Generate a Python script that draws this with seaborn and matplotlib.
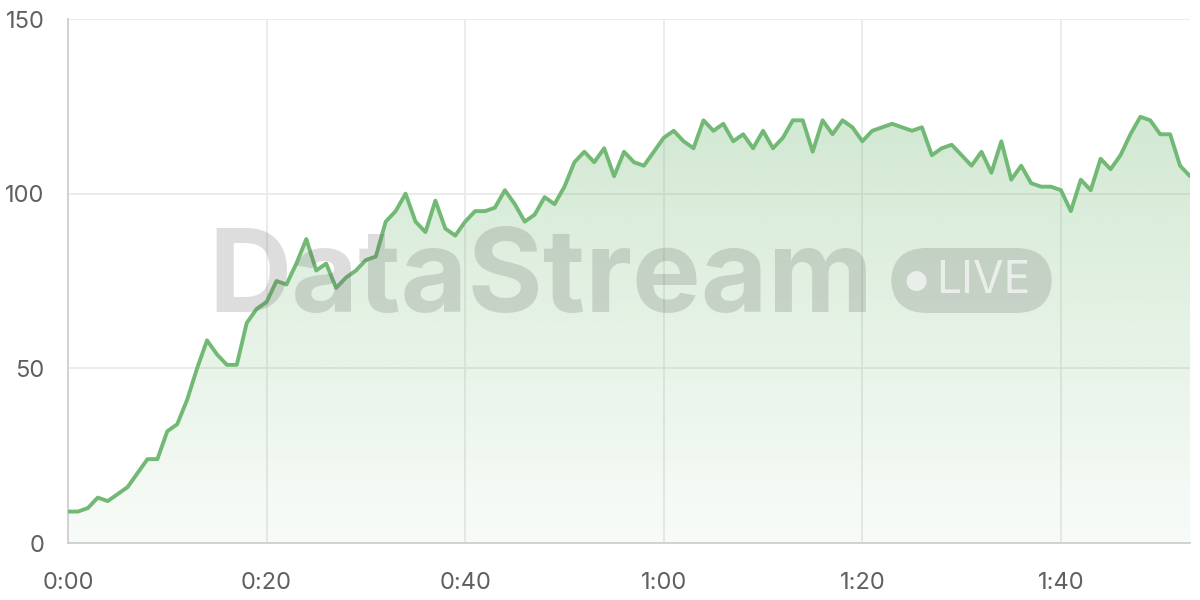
import numpy as np
import pandas as pd
import matplotlib
matplotlib.use("Agg")
import matplotlib.pyplot as plt
import seaborn as sns
from matplotlib.patches import FancyBboxPatch

# 秒ごとの値
seconds = list(range(114))
values = [
    9, 9, 10, 13, 12, 14, 16, 20, 24, 24,
    32, 34, 41, 50, 58, 54, 51, 51, 63, 67,
    69, 75, 74, 80, 87, 78, 80, 73, 76, 78,
    81, 82, 92, 95, 100, 92, 89, 98, 90, 88,
    92, 95, 95, 96, 101, 97, 92, 94, 99, 97,
    102, 109, 112, 109, 113, 105, 112, 109, 108, 112,
    116, 118, 115, 113, 121, 118, 120, 115, 117, 113,
    118, 113, 116, 121, 121, 112, 121, 117, 121, 119,
    115, 118, 119, 120, 119, 118, 119, 111, 113, 114,
    111, 108, 112, 106, 115, 104, 108, 103, 102, 102,
    101, 95, 104, 101, 110, 107, 111, 117, 122, 121,
    117, 117, 108, 105,
]
x_ticks = [0, 20, 40, 60, 80, 100]
x_tick_labels = ["0:00", "0:20", "0:40", "1:00", "1:20", "1:40"]
y_ticks = [0, 50, 100, 150]

line_color = "#72b975"
grid_color = "#e8e8e8"
axis_color = "#cfcfcf"
text_color = "#606060"

sns.set_style("whitegrid")
plt.rcParams["font.family"] = ["Inter", "DejaVu Sans"]

df = pd.DataFrame({"t": seconds, "v": values})

fig = plt.figure(figsize=(12, 6), dpi=100)
ax = fig.add_axes([68 / 1200, 1 - 543 / 600, (1190 - 68) / 1200, (543 - 19) / 600])

# グラデーション塗り
poly = ax.fill_between(df["t"], df["v"], 0, color="none", lw=0)
grad = np.linspace(0.05, 0.32, 256).reshape(-1, 1)
rgba = np.zeros((256, 1, 4))
rgba[..., :3] = matplotlib.colors.to_rgb(line_color)
rgba[..., 3] = grad
img = ax.imshow(rgba, extent=[0, 113, 0, max(values)], origin="lower",
                aspect="auto", zorder=1)
img.set_clip_path(poly.get_paths()[0], transform=ax.transData)

sns.lineplot(data=df, x="t", y="v", ax=ax, color=line_color, lw=2.8, zorder=3)

ax.set_xlim(0, 113)
ax.set_ylim(0, 150)
ax.set_xticks(x_ticks)
ax.set_xticklabels(x_tick_labels)
ax.set_yticks(y_ticks)
ax.set_xlabel("")
ax.set_ylabel("")
ax.grid(True, color=grid_color, lw=1.2)
ax.set_axisbelow(True)
for side in ["top", "right"]:
    ax.spines[side].set_visible(False)
for side in ["left", "bottom"]:
    ax.spines[side].set_color(axis_color)
    ax.spines[side].set_linewidth(1.3)
ax.tick_params(axis="x", length=11, width=1.2, color=grid_color, pad=10,
               labelsize=17, labelcolor=text_color)
ax.tick_params(axis="y", length=11, width=1.2, color=grid_color, pad=6,
               labelsize=17, labelcolor=text_color)

# ウォーターマーク
wm_color = (0.35, 0.35, 0.35, 0.2)
fig.text(208 / 1200, 1 - 312 / 600, "DataStream", fontsize=83, fontweight="bold",
         color=wm_color, ha="left", va="baseline", zorder=5)
pill = FancyBboxPatch((891 / 1200, 1 - 313 / 600), (1052 - 891) / 1200, (313 - 248) / 600,
                      boxstyle="round,pad=0,rounding_size=0.03",
                      transform=fig.transFigure, facecolor=wm_color, edgecolor="none",
                      mutation_aspect=2.0, zorder=5)
fig.patches.append(pill)
fig.text(916 / 1200, 1 - 281 / 600, "●", fontsize=19, color=(1, 1, 1, 0.65),
         ha="center", va="center", family=["DejaVu Sans"], zorder=6)
fig.text(936 / 1200, 1 - 281 / 600, "LIVE", fontsize=32, color=(1, 1, 1, 0.65),
         ha="left", va="center", zorder=6)

fig.savefig("out.png", dpi=100)
